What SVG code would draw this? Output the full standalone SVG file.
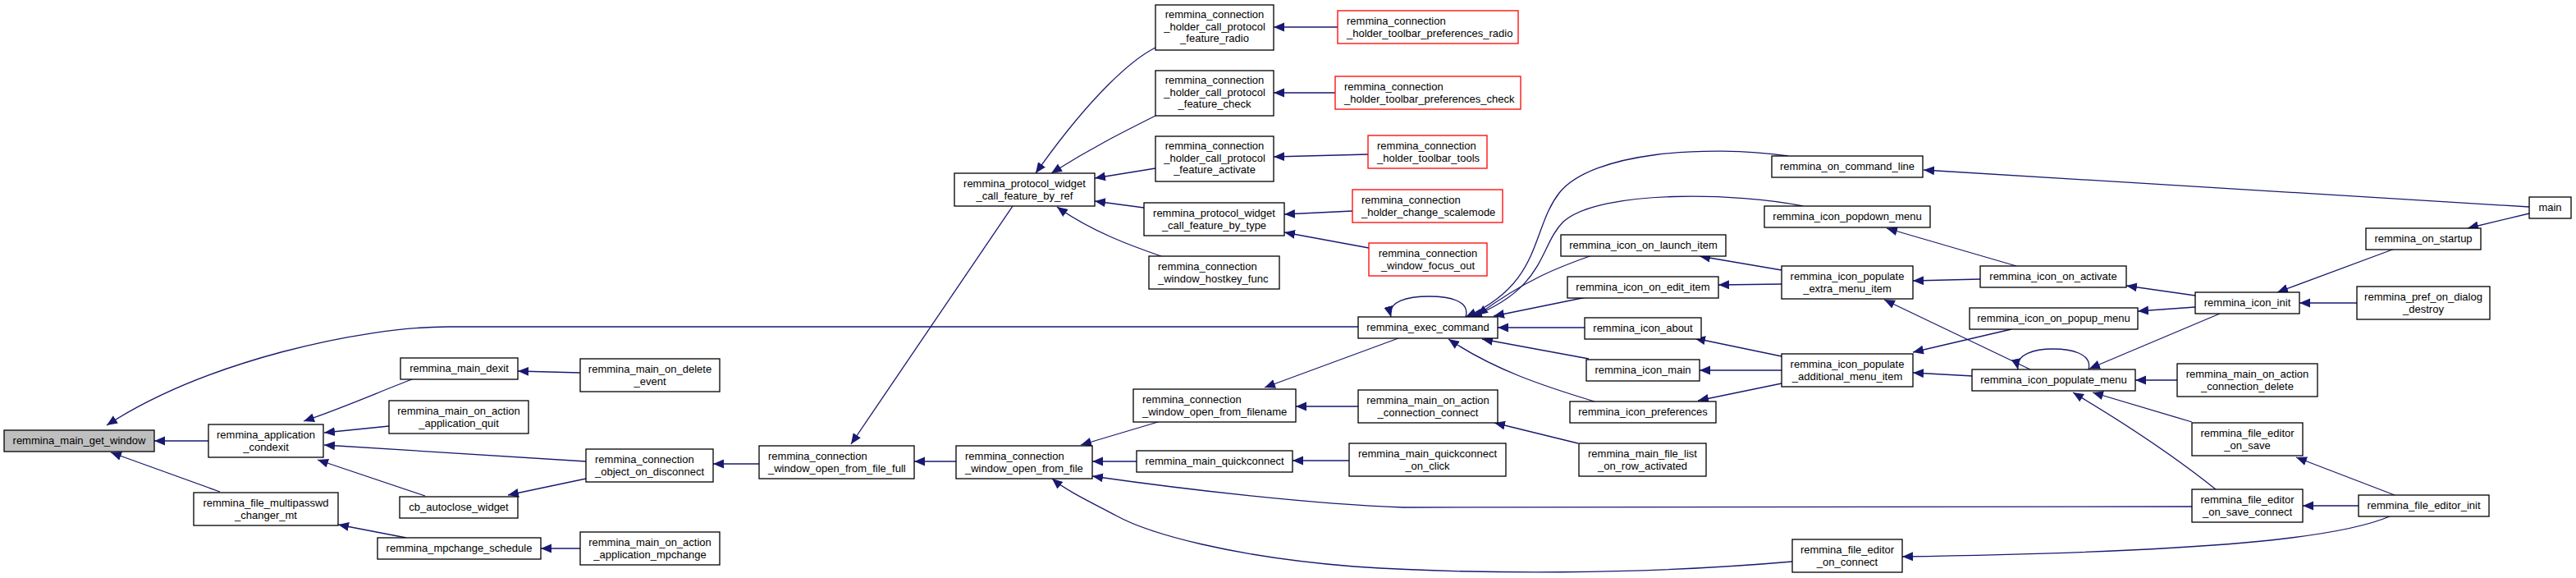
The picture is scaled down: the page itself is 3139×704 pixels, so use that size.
<svg xmlns="http://www.w3.org/2000/svg" width="3139" height="704" viewBox="0 0 3139 704">
<style>
.n rect{fill:#fff;stroke:#000;stroke-width:1.3}
.root rect{fill:#bfbfbf}
.red rect{stroke:#ff0000}
text{font-family:"Liberation Sans",Arial,Helvetica,sans-serif;font-size:13px;fill:#000}
.c text{text-anchor:middle}
#edges path{fill:none;stroke:#191970;stroke-width:1.3;marker-end:url(#a)}
</style>
<defs>
<marker id="a" markerUnits="userSpaceOnUse" markerWidth="14" markerHeight="12" refX="13" refY="5.5" orient="auto"><path d="M0,0 L13,5.5 L0,11 z" fill="#191970"/></marker>
</defs>
<rect width="3139" height="704" fill="#fff"/>
<g id="edges">
<path d="M254,537 L188,537"/>
<path d="M268,599 L135,551"/>
<path d="M1655,398 L546,398 C440,398 250,440 130,518"/>
<path d="M502,462 C460,478 420,496 370,513"/>
<path d="M474,519 L395,527"/>
<path d="M714,562 L395,542"/>
<path d="M518,604 L387,560"/>
<path d="M714,583 L619,603"/>
<path d="M495,655 L412,639"/>
<path d="M707,454 L631,452"/>
<path d="M707,668 L659,668"/>
<path d="M925,565 L869,565"/>
<path d="M1165,562 L1114,562"/>
<path d="M1234,251 L1037,541"/>
<path d="M1411,514 L1317,542"/>
<path d="M1385,562 L1331,562"/>
<path d="M2671,617 L1710,618 C1600,614 1450,597 1331,580"/>
<path d="M2184,684 C2000,700 1800,700 1650,690 C1500,678 1400,650 1360,628 C1330,612 1300,598 1282,583"/>
<path d="M1704,412 L1541,472"/>
<path d="M1655,495 L1579,495"/>
<path d="M1644,561 L1575,561"/>
<path d="M1923,540 L1821,515"/>
<path d="M1630,33 L1552,33"/>
<path d="M1627,113 L1552,113"/>
<path d="M1667,188 L1552,191"/>
<path d="M1648,257 L1565,261"/>
<path d="M1668,302 L1565,283"/>
<path d="M1408,58 C1380,72 1330,115 1262,211"/>
<path d="M1408,141 C1370,160 1330,180 1281,211"/>
<path d="M1408,205 L1334,217"/>
<path d="M1394,253 L1334,245"/>
<path d="M1415,312 C1380,300 1330,282 1288,252"/>
<path d="M1786,386 C1792,366 1765,361 1742,361 C1715,361 1690,367 1695,386"/>
<path d="M2179,190 C2080,176 1940,185 1900,235 C1865,280 1880,345 1786,386"/>
<path d="M2197,251 C2120,235 1950,230 1905,270 C1875,300 1885,350 1793,386"/>
<path d="M1940,311 C1900,325 1860,340 1800,384"/>
<path d="M1933,362 L1820,385"/>
<path d="M1931,399 L1825,399"/>
<path d="M1936,437 L1806,413"/>
<path d="M1943,489 C1880,470 1820,450 1765,413"/>
<path d="M2171,329 L2071,312"/>
<path d="M2171,346 L2094,347"/>
<path d="M2171,434 L2065,412"/>
<path d="M2171,451 L2071,451"/>
<path d="M2171,467 L2069,488"/>
<path d="M2413,340 L2331,342"/>
<path d="M2457,324 L2299,278"/>
<path d="M3082,252 L2344,207"/>
<path d="M3082,260 L3007,278"/>
<path d="M2918,303 L2775,356"/>
<path d="M2872,369 L2802,369"/>
<path d="M2675,360 L2591,348"/>
<path d="M2675,374 L2605,379"/>
<path d="M2705,382 L2546,449"/>
<path d="M2451,401 L2331,429"/>
<path d="M2404,458 L2331,454"/>
<path d="M2474,450 L2296,365"/>
<path d="M2545,450 C2550,430 2522,425 2502,425 C2480,425 2455,431 2459,450"/>
<path d="M2653,463 L2602,463"/>
<path d="M2671,514 L2550,478"/>
<path d="M2700,596 Q2630,540 2526,478"/>
<path d="M2918,603 L2798,557"/>
<path d="M2874,616 L2806,616"/>
<path d="M2912,629 C2850,655 2700,672 2318,678"/>
</g>
<g id="n_get_window" class="n root c"><rect x="5" y="524" width="183" height="26"/><text x="96.5" y="541">remmina_main_get_window</text></g>
<g id="n_condexit" class="n c"><rect x="254" y="517" width="140" height="40"/><text x="324" y="533.5">remmina_application</text><text x="324" y="548.5">_condexit</text></g>
<g id="n_dexit" class="n c"><rect x="488" y="436" width="143" height="26"/><text x="559.5" y="453">remmina_main_dexit</text></g>
<g id="n_app_quit" class="n c"><rect x="474" y="488" width="170" height="40"/><text x="559" y="504.5">remmina_main_on_action</text><text x="559" y="519.5">_application_quit</text></g>
<g id="n_cb_autoclose" class="n c"><rect x="487" y="605" width="144" height="26"/><text x="559" y="622">cb_autoclose_widget</text></g>
<g id="n_multipasswd" class="n c"><rect x="236" y="600" width="176" height="40"/><text x="324" y="616.5">remmina_file_multipasswd</text><text x="324" y="631.5">_changer_mt</text></g>
<g id="n_mpchange_schedule" class="n c"><rect x="460" y="655" width="199" height="26"/><text x="559.5" y="672">remmina_mpchange_schedule</text></g>
<g id="n_delete_event" class="n c"><rect x="707" y="437" width="170" height="40"/><text x="792" y="453.5">remmina_main_on_delete</text><text x="792" y="468.5">_event</text></g>
<g id="n_obj_disconnect" class="n"><rect x="714" y="547" width="155" height="40"/><text x="725" y="563.5">remmina_connection</text><text x="725" y="578.5">_object_on_disconnect</text></g>
<g id="n_app_mpchange" class="n c"><rect x="707" y="648" width="170" height="40"/><text x="792" y="664.5">remmina_main_on_action</text><text x="792" y="679.5">_application_mpchange</text></g>
<g id="n_open_file_full" class="n"><rect x="925" y="543" width="189" height="40"/><text x="936" y="559.5">remmina_connection</text><text x="936" y="574.5">_window_open_from_file_full</text></g>
<g id="n_open_file" class="n"><rect x="1165" y="543" width="166" height="40"/><text x="1176" y="559.5">remmina_connection</text><text x="1176" y="574.5">_window_open_from_file</text></g>
<g id="n_by_ref" class="n c"><rect x="1163" y="211" width="171" height="40"/><text x="1248.5" y="227.5">remmina_protocol_widget</text><text x="1248.5" y="242.5">_call_feature_by_ref</text></g>
<g id="n_feat_radio" class="n c"><rect x="1408" y="6" width="144" height="55"/><text x="1480" y="22">remmina_connection</text><text x="1480" y="36.5">_holder_call_protocol</text><text x="1480" y="51">_feature_radio</text></g>
<g id="n_feat_check" class="n c"><rect x="1408" y="86" width="144" height="55"/><text x="1480" y="102">remmina_connection</text><text x="1480" y="116.5">_holder_call_protocol</text><text x="1480" y="131">_feature_check</text></g>
<g id="n_feat_activate" class="n c"><rect x="1408" y="166" width="144" height="55"/><text x="1480" y="182">remmina_connection</text><text x="1480" y="196.5">_holder_call_protocol</text><text x="1480" y="211">_feature_activate</text></g>
<g id="n_by_type" class="n c"><rect x="1394" y="247" width="171" height="40"/><text x="1479.5" y="263.5">remmina_protocol_widget</text><text x="1479.5" y="278.5">_call_feature_by_type</text></g>
<g id="n_hostkey" class="n"><rect x="1400" y="312" width="159" height="40"/><text x="1411" y="328.5">remmina_connection</text><text x="1411" y="343.5">_window_hostkey_func</text></g>
<g id="n_tb_radio" class="n red"><rect x="1630" y="13" width="220" height="40"/><text x="1641" y="29.5">remmina_connection</text><text x="1641" y="44.5">_holder_toolbar_preferences_radio</text></g>
<g id="n_tb_check" class="n red"><rect x="1627" y="93" width="226" height="40"/><text x="1638" y="109.5">remmina_connection</text><text x="1638" y="124.5">_holder_toolbar_preferences_check</text></g>
<g id="n_tb_tools" class="n red"><rect x="1667" y="165" width="145" height="40"/><text x="1678" y="181.5">remmina_connection</text><text x="1678" y="196.5">_holder_toolbar_tools</text></g>
<g id="n_scalemode" class="n red"><rect x="1648" y="231" width="183" height="40"/><text x="1659" y="247.5">remmina_connection</text><text x="1659" y="262.5">_holder_change_scalemode</text></g>
<g id="n_focus_out" class="n red c"><rect x="1668" y="296" width="144" height="40"/><text x="1740" y="312.5">remmina_connection</text><text x="1740" y="327.5">_window_focus_out</text></g>
<g id="n_exec" class="n c"><rect x="1655" y="386" width="170" height="26"/><text x="1740" y="403">remmina_exec_command</text></g>
<g id="n_open_filename" class="n"><rect x="1381" y="474" width="198" height="40"/><text x="1392" y="490.5">remmina_connection</text><text x="1392" y="505.5">_window_open_from_filename</text></g>
<g id="n_quickconnect" class="n c"><rect x="1385" y="549" width="190" height="26"/><text x="1480" y="566">remmina_main_quickconnect</text></g>
<g id="n_conn_connect" class="n c"><rect x="1655" y="475" width="170" height="40"/><text x="1740" y="491.5">remmina_main_on_action</text><text x="1740" y="506.5">_connection_connect</text></g>
<g id="n_qc_click" class="n c"><rect x="1644" y="540" width="191" height="40"/><text x="1739.5" y="556.5">remmina_main_quickconnect</text><text x="1739.5" y="571.5">_on_click</text></g>
<g id="n_cmdline" class="n c"><rect x="2159" y="190" width="184" height="26"/><text x="2251" y="207">remmina_on_command_line</text></g>
<g id="n_popdown" class="n c"><rect x="2150" y="251" width="202" height="26"/><text x="2251" y="268">remmina_icon_popdown_menu</text></g>
<g id="n_launch" class="n c"><rect x="1902" y="286" width="201" height="26"/><text x="2002.5" y="303">remmina_icon_on_launch_item</text></g>
<g id="n_edit" class="n c"><rect x="1910" y="337" width="184" height="26"/><text x="2002" y="354">remmina_icon_on_edit_item</text></g>
<g id="n_about" class="n c"><rect x="1931" y="387" width="142" height="26"/><text x="2002" y="404">remmina_icon_about</text></g>
<g id="n_icon_main" class="n c"><rect x="1933" y="438" width="138" height="26"/><text x="2002" y="455">remmina_icon_main</text></g>
<g id="n_prefs" class="n c"><rect x="1913" y="489" width="178" height="26"/><text x="2002" y="506">remmina_icon_preferences</text></g>
<g id="n_file_list" class="n c"><rect x="1924" y="540" width="155" height="40"/><text x="2001.5" y="556.5">remmina_main_file_list</text><text x="2001.5" y="571.5">_on_row_activated</text></g>
<g id="n_extra" class="n c"><rect x="2171" y="324" width="160" height="40"/><text x="2251" y="340.5">remmina_icon_populate</text><text x="2251" y="355.5">_extra_menu_item</text></g>
<g id="n_additional" class="n c"><rect x="2171" y="431" width="160" height="40"/><text x="2251" y="447.5">remmina_icon_populate</text><text x="2251" y="462.5">_additional_menu_item</text></g>
<g id="n_fe_connect" class="n c"><rect x="2184" y="657" width="134" height="40"/><text x="2251" y="673.5">remmina_file_editor</text><text x="2251" y="688.5">_on_connect</text></g>
<g id="n_on_activate" class="n c"><rect x="2413" y="324" width="178" height="26"/><text x="2502" y="341">remmina_icon_on_activate</text></g>
<g id="n_popup" class="n c"><rect x="2400" y="375" width="205" height="26"/><text x="2502.5" y="392">remmina_icon_on_popup_menu</text></g>
<g id="n_populate" class="n c"><rect x="2403" y="450" width="199" height="26"/><text x="2502.5" y="467">remmina_icon_populate_menu</text></g>
<g id="n_on_save" class="n c"><rect x="2671" y="515" width="135" height="40"/><text x="2738.5" y="531.5">remmina_file_editor</text><text x="2738.5" y="546.5">_on_save</text></g>
<g id="n_save_connect" class="n c"><rect x="2671" y="596" width="135" height="40"/><text x="2738.5" y="612.5">remmina_file_editor</text><text x="2738.5" y="627.5">_on_save_connect</text></g>
<g id="n_conn_delete" class="n c"><rect x="2653" y="443" width="171" height="40"/><text x="2738.5" y="459.5">remmina_main_on_action</text><text x="2738.5" y="474.5">_connection_delete</text></g>
<g id="n_icon_init" class="n c"><rect x="2675" y="356" width="127" height="26"/><text x="2738.5" y="373">remmina_icon_init</text></g>
<g id="n_startup" class="n c"><rect x="2883" y="278" width="140" height="26"/><text x="2953" y="295">remmina_on_startup</text></g>
<g id="n_pref_destroy" class="n c"><rect x="2872" y="349" width="162" height="40"/><text x="2953" y="365.5">remmina_pref_on_dialog</text><text x="2953" y="380.5">_destroy</text></g>
<g id="n_main" class="n c"><rect x="3082" y="240" width="51" height="26"/><text x="3107.5" y="257">main</text></g>
<g id="n_fe_init" class="n c"><rect x="2874" y="603" width="159" height="26"/><text x="2953.5" y="620">remmina_file_editor_init</text></g>
</svg>
